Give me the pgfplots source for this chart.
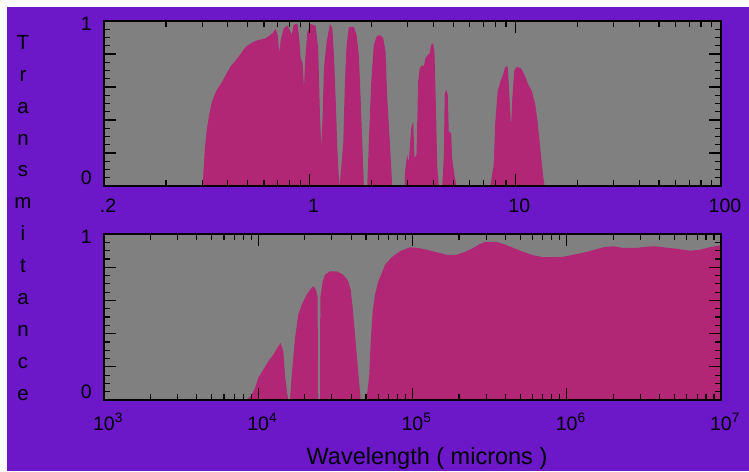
\documentclass[border=0pt]{standalone}
\usepackage{pgfplots}
\usepackage{pgfplotstable}
\pgfplotsset{compat=1.18}
\usepackage{fontspec}
\setmainfont{Liberation Sans}
\definecolor{bgpurple}{RGB}{108,24,200}
\definecolor{band}{RGB}{178,38,118}
\definecolor{panel}{RGB}{128,128,128}

% optical / IR window (wavelength in microns, transmittance)
\pgfplotstableread{
lam T
0.1 0
0.3013 0
0.304 0.067
0.3093 0.230
0.3162 0.339
0.3244 0.430
0.3344 0.509
0.3497 0.572
0.3698 0.618
0.3911 0.673
0.4135 0.727
0.4457 0.774
0.4890 0.844
0.5348 0.875
0.5655 0.885
0.6114 0.895
0.6592 0.925
0.6839 0.952
0.6994 0.915
0.7112 0.806
0.7233 0.885
0.7480 0.956
0.7791 0.972
0.7995 0.945
0.8177 0.915
0.8362 0.976
0.8715 0.985
0.8893 0.897
0.9043 0.774
0.9247 0.745
0.9383 0.592
0.9510 0.764
0.9746 0.935
1.0112 0.982
1.0693 0.970
1.0997 0.836
1.1220 0.430
1.1397 0.236
1.1565 0.430
1.1734 0.715
1.2094 0.873
1.2548 0.982
1.2890 0.958
1.3122 0.794
1.3373 0.533
1.3630 0.230
1.3938 0
1.4142 0.067
1.4576 0.267
1.4840 0.630
1.5123 0.855
1.5517 0.964
1.6406 0.964
1.6912 0.915
1.7350 0.794
1.7685 0.533
1.8023 0.267
1.8350 0
1.9055 0
1.9400 0.267
1.9927 0.630
2.0514 0.855
2.1142 0.905
2.1938 0.915
2.2786 0.897
2.3377 0.812
2.3828 0.533
2.4530 0.267
2.5200 0
2.9013 0
2.9080 0.085
2.9805 0.188
3.0339 0.145
3.1165 0.352
3.1870 0.390
3.2336 0.170
3.3066 0.188
3.3704 0.632
3.4307 0.713
3.5242 0.733
3.5881 0.721
3.6566 0.774
3.7520 0.794
3.8367 0.806
3.8973 0.855
3.9853 0.865
4.0436 0.812
4.1207 0.430
4.1687 0.127
4.2440 0
4.4085 0
4.4875 0.170
4.5383 0.562
4.6238 0.582
4.6924 0.552
4.7451 0.329
4.8742 0.321
4.9281 0.170
5.0566 0.067
5.1710 0
7.5605 0
7.8458 0.127
7.9955 0.390
8.2044 0.572
8.4560 0.632
8.7149 0.673
8.9424 0.723
9.1743 0.723
9.2784 0.632
9.5302 0.359
9.6698 0.533
9.8878 0.703
10.19 0.723
10.66 0.713
11.18 0.662
11.60 0.612
12.05 0.572
12.51 0.491
12.83 0.390
13.22 0.230
13.63 0.067
13.88 0
100 0
}\optical

% radio window
\pgfplotstableread{
lam T
1000 0
8414 0
9069 0.032
9526 0.072
10007 0.133
10782 0.183
11621 0.233
12520 0.273
13490 0.323
13983 0.343
14535 0.293
14909 0.151
15291 0.060
15662 0
16064 0
16479 0.152
17312 0.373
18185 0.514
19128 0.574
20608 0.634
21650 0.664
22745 0.685
23680 0.664
24215 0.627
24506 0
25136 0
25251 0.614
26170 0.715
27083 0.755
29190 0.775
32263 0.775
35595 0.755
38355 0.715
39756 0.663
40967 0.554
42395 0.393
43874 0.233
45205 0.092
46162 0
49942 0
50918 0.048
52464 0.152
53576 0.354
55204 0.534
57131 0.634
60015 0.715
63140 0.763
66333 0.815
73315 0.860
82985 0.896
96337 0.920
109040 0.916
123650 0.905
139970 0.892
166670 0.875
193470 0.875
218990 0.892
247930 0.916
273970 0.940
295120 0.952
351590 0.952
387990 0.940
450320 0.916
522860 0.892
606990 0.872
704690 0.860
818080 0.860
949750 0.863
1102800 0.875
1346900 0.892
1725600 0.920
2003600 0.926
2325800 0.916
2841300 0.916
3298500 0.924
3734100 0.926
4226600 0.920
5160700 0.911
6295100 0.899
7308300 0.905
8487800 0.920
10000000 0.932
}\radio

\pgfplotsset{
  panelaxis/.style={
    scale only axis, width=617pt,
    ymin=0, ymax=1,
    axis background/.style={fill=panel},
    axis on top,
    axis line style={line width=1.4pt},
    tick style={black, line width=1.2pt},
    tick align=inside, xtick pos=both, ytick pos=both,
    major tick length=12pt, minor tick length=6pt,
    ytick={0.2,0.4,0.6,0.8,1}, yticklabels={,,,,1},
    minor ytick={0.05,0.1,0.15,0.25,0.3,0.35,0.45,0.5,0.55,0.65,0.7,0.75,0.85,0.9,0.95},
    extra y ticks={0}, extra y tick labels={0},
    extra y tick style={yticklabel style={yshift=11pt}},
    ticklabel style={font=\fontsize{19.5}{19.5}\selectfont, inner sep=0pt},
    yticklabel style={anchor=east, xshift=-12pt, yshift=-3pt},
    xticklabel style={anchor=north, yshift=-13pt, xshift=4pt},
  }
}

\begin{document}
\begin{tikzpicture}[x=1pt,y=1pt]
\fill[white] (0,0) rectangle (749,471);
\fill[bgpurple] (7,0) rectangle (749,464);

\node[anchor=north, inner sep=0pt, align=center,
  font=\fontsize{20.5}{31.9}\selectfont] at (23,436)
  {T\\r\\a\\n\\s\\m\\i\\t\\a\\n\\c\\e};

\begin{axis}[xmode=log, panelaxis, at={(104pt,285pt)}, anchor=south west, height=165pt,
  xmin=0.1, xmax=100,
  xtick={0.1,1,10,100}, xticklabels={.2,1,10,100},
  minor xtick={0.2,0.3,0.4,0.5,0.6,0.7,0.8,0.9,2,3,4,5,6,7,8,9,20,30,40,50,60,70,80,90}]
\addplot[fill=band, draw=none] table[x=lam, y=T] {\optical} \closedcycle;
\end{axis}

\begin{axis}[xmode=log, panelaxis, at={(104pt,71pt)}, anchor=south west, height=166pt,
  xmin=1e3, xmax=1e7,
  xtick={1e3,1e4,1e5,1e6,1e7},
  xticklabels={10\textsuperscript{3},10\textsuperscript{4},10\textsuperscript{5},10\textsuperscript{6},10\textsuperscript{7}},
  minor xtick={2e3,3e3,4e3,5e3,6e3,7e3,8e3,9e3,2e4,3e4,4e4,5e4,6e4,7e4,8e4,9e4,2e5,3e5,4e5,5e5,6e5,7e5,8e5,9e5,2e6,3e6,4e6,5e6,6e6,7e6,8e6,9e6},
  xlabel={Wavelength ( microns )},
  xlabel style={at={(axis description cs:0.5235,0)}, anchor=base, yshift=-64pt,
    inner sep=0pt, font=\fontsize{23.5}{23.5}\selectfont}]
\addplot[fill=band, draw=none] table[x=lam, y=T] {\radio} \closedcycle;
\end{axis}

\pgfresetboundingbox
\path[use as bounding box] (0,0) rectangle (749,471);
\end{tikzpicture}
\end{document}
